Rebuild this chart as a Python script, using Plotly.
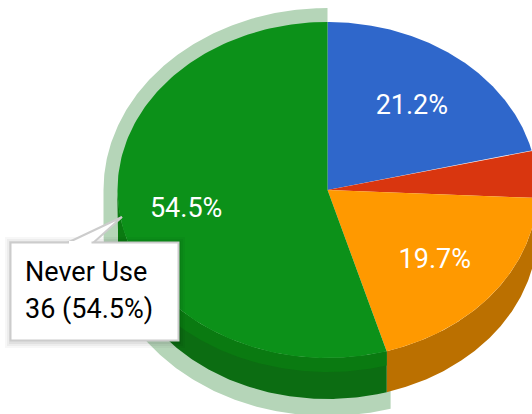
import numpy as np
import plotly.graph_objects as go

categories = ["Daily", "Weekly", "Monthly", "Never Use"]
counts = [14, 3, 13, 36]
colors = ["#2f67cb", "#d9360f", "#ff9900", "#0c9119"]
wall_colors = ["#24509f", "#a62a0c", "#bb7000", "#0c6d12"]
tooltip_lines = ["Never Use", "36 (54.5%)"]

W, H = 532, 414
CX, CY, RX, RY, DEPTH = 327.5, 190.0, 210.0, 168.0, 41.0
HRX, HRY, HDEPTH = 224.0, 182.0, 44.0
FONT = "Roboto, Arial, sans-serif"
LABEL_RADII = np.array([0.65, 0.65, 0.65, 0.68])
LABEL_DY = 3.5

total = sum(counts)
fractions = np.array(counts) / total
edges = np.concatenate([[0], np.cumsum(fractions)]) * 2 * np.pi


def ell(t, rx, ry, dy=0.0):
    return CX + rx * np.sin(t), CY + dy - ry * np.cos(t)


def arc(a, b, n=160):
    return np.linspace(a, b, n)


def add_poly(fig, x, y, color):
    fig.add_trace(go.Scatter(x=list(x), y=list(y), mode="lines", fill="toself",
                             fillcolor=color, line=dict(width=0), hoverinfo="skip",
                             showlegend=False))


def wall(a, b):
    # visible side wall for the lower half of the ellipse
    lo, hi = max(a, np.pi / 2), min(b, 3 * np.pi / 2)
    if hi <= lo:
        return None
    t = arc(lo, hi)
    x1, y1 = ell(t, RX, RY)
    x2, y2 = ell(t[::-1], RX, RY, DEPTH)
    return np.concatenate([x1, x2]), np.concatenate([y1, y2])


fig = go.Figure()

# selection halo of the last slice, with its extrusion
a, b = edges[3], edges[4]
left = 3 * np.pi / 2
t_low = arc(a, left)
t_up = arc(left, b)
lx, ly = ell(t_low, HRX, HRY, HDEPTH)
ux, uy = ell(t_up, HRX, HRY)
ex, ey = ell(np.array([a]), HRX, HRY)
add_poly(fig, np.concatenate([ex, lx, ux, [CX]]), np.concatenate([ey, ly, uy, [CY]]), "#b5d5b8")

# side walls of all slices
for i in range(4):
    w = wall(edges[i], edges[i + 1])
    if w:
        add_poly(fig, w[0], w[1], wall_colors[i])

# lighter band where the halo ring lies on the wall
t = arc(a, left)
fx, fy = ell(t, RX, RY)
dx = (fx - CX) / RX
outer = CY + HRY * np.sqrt(np.clip(1 - (dx * RX / HRX) ** 2, 0, 1))
lower = CY + DEPTH + RY * np.sqrt(np.clip(1 - dx ** 2, 0, 1))
add_poly(fig, np.concatenate([fx, fx[::-1]]),
         np.concatenate([fy, np.minimum(outer, lower)[::-1]]), "#0a7a11")

# top faces
for i in range(4):
    t = arc(edges[i], edges[i + 1])
    x, y = ell(t, RX, RY)
    add_poly(fig, np.concatenate([[CX], x, [CX]]), np.concatenate([[CY], y, [CY]]), colors[i])

# slice labels (the small slice carries none)
mids = (edges[:-1] + edges[1:]) / 2
lab_x, lab_y = ell(mids, RX * LABEL_RADII, RY * LABEL_RADII, LABEL_DY)
labels = [f"{f * 100:.1f}%" if f > 0.05 else "" for f in fractions]
fig.add_trace(go.Scatter(x=lab_x, y=lab_y, mode="text", text=labels,
                         textfont=dict(family=FONT, size=27, color="white"),
                         hoverinfo="skip", showlegend=False))

shapes = []
for off, op in [(7, 0.03), (5, 0.04), (3, 0.05)]:
    shapes.append(dict(type="rect", xref="x", yref="y", x0=10 - off + 2, x1=178 + off, y0=242 - off + 2, y1=341 + off,
                       line=dict(width=0), fillcolor=f"rgba(0,0,0,{op})"))
shapes.append(dict(type="path", xref="x", yref="y", path="M 67 243 L 122 217 L 93 243 Z",
                   fillcolor="white", line=dict(color="#cccccc", width=2)))
shapes.append(dict(type="rect", xref="x", yref="y", x0=10.5, x1=178.5, y0=242.5, y1=340.5,
                   fillcolor="white", line=dict(color="#cccccc", width=2)))
shapes.append(dict(type="line", xref="x", yref="y", x0=69, x1=91.5, y0=242.5, y1=242.5,
                   line=dict(color="white", width=3)))

annotations = [dict(x=23, y=272 + i * 37, xref="x", yref="y", text=line, showarrow=False,
                    xanchor="left", yanchor="middle",
                    font=dict(family=FONT, size=27, color="#000000"))
               for i, line in enumerate(tooltip_lines)]

fig.update_layout(
    width=W, height=H, margin=dict(l=0, r=0, t=0, b=0),
    paper_bgcolor="white", plot_bgcolor="white", showlegend=False,
    xaxis=dict(range=[0, W], visible=False, fixedrange=True),
    yaxis=dict(range=[H, 0], visible=False, fixedrange=True),
    shapes=shapes, annotations=annotations,
)
fig.write_html("out.html", config=dict(displayModeBar=False),
               post_script="document.body.style.margin='0';document.documentElement.style.overflow='hidden';")
